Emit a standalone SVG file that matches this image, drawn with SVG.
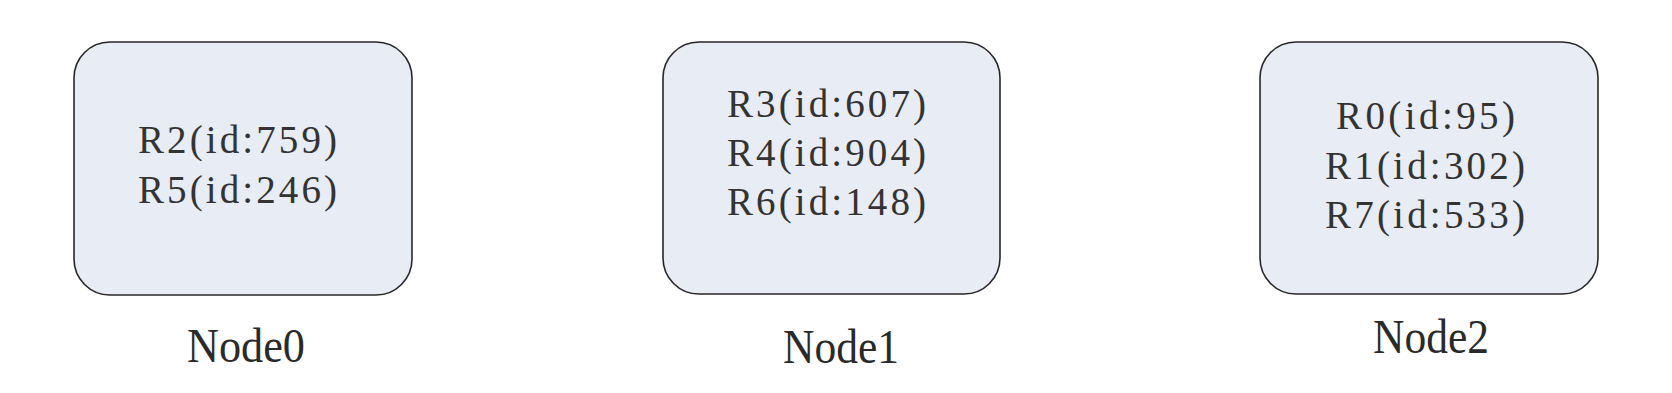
<svg xmlns="http://www.w3.org/2000/svg" width="1672" height="393" viewBox="0 0 1672 393">
<style>
.box{fill:#e8ecf5;stroke:#262626;stroke-width:1.6}
.t{font-family:"Liberation Serif","Noto Sans CJK SC",serif;font-size:39px;fill:#333}
.lbl{font-family:"Liberation Serif","Noto Sans CJK SC",serif;font-size:48px;fill:#2a2a2a}
</style>
<rect width="1672" height="393" fill="#ffffff"/>
<g id="node0">
<rect class="box" x="74" y="42" width="338" height="253" rx="36" ry="36"/>
<text class="t" x="138" y="153" textLength="199" lengthAdjust="spacing">R2(id:759)</text>
<text class="t" x="138" y="203" textLength="199" lengthAdjust="spacing">R5(id:246)</text>
<text class="lbl" x="187" y="362" textLength="118" lengthAdjust="spacingAndGlyphs">Node0</text>
</g>
<g id="node1">
<rect class="box" x="663" y="42" width="337" height="252" rx="36" ry="36"/>
<text class="t" x="727" y="117" textLength="199" lengthAdjust="spacing">R3(id:607)</text>
<text class="t" x="727" y="166" textLength="199" lengthAdjust="spacing">R4(id:904)</text>
<text class="t" x="727" y="215" textLength="199" lengthAdjust="spacing">R6(id:148)</text>
<text class="lbl" x="783" y="363" textLength="116" lengthAdjust="spacingAndGlyphs">Node1</text>
</g>
<g id="node2">
<rect class="box" x="1260" y="42" width="338" height="252" rx="36" ry="36"/>
<text class="t" x="1336" y="129" textLength="179" lengthAdjust="spacing">R0(id:95)</text>
<text class="t" x="1325" y="179" textLength="200" lengthAdjust="spacing">R1(id:302)</text>
<text class="t" x="1325" y="228" textLength="200" lengthAdjust="spacing">R7(id:533)</text>
<text class="lbl" x="1373" y="353" textLength="116" lengthAdjust="spacingAndGlyphs">Node2</text>
</g>
<g id="connectors"></g>
</svg>
